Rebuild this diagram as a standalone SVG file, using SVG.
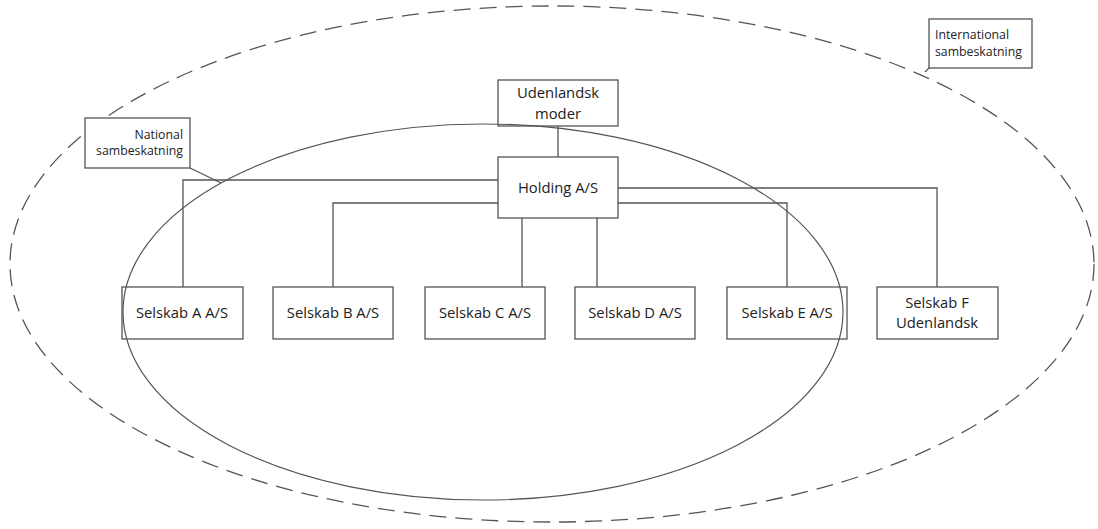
<svg xmlns="http://www.w3.org/2000/svg" width="1098" height="529" viewBox="0 0 1098 529">
<style>
.box{fill:#fff;stroke:#555;stroke-width:1.3}
.t{font-family:"Open Sans","Noto Sans",sans-serif;font-size:14.8px;fill:#222;text-anchor:middle}
.c{font-family:"Open Sans","Noto Sans",sans-serif;font-size:12.3px;fill:#222}
.ln{fill:none;stroke:#555;stroke-width:1.3}
</style>
<rect width="1098" height="529" fill="#fff"/>
<g id="international-ellipse"><ellipse cx="552" cy="264" rx="542" ry="258" fill="none" stroke="#555" stroke-width="1.3" stroke-dasharray="17 9"/></g>
<g id="connectors">
<path class="ln" d="M558 126V157M498 180H183V287M498 203H333V287M522 218V287M597 218V287M618 188H937V287M618 203H787V287"/>
<path class="ln" d="M190 168L221 183M929 68L925 72"/>
</g>
<g id="udenlandsk-moder"><rect class="box" x="498" y="80" width="120" height="46"/><text class="t" x="558" y="98">Udenlandsk</text><text class="t" x="558" y="119">moder</text></g>
<g id="holding"><rect class="box" x="498" y="157" width="120" height="61"/><text class="t" x="558" y="193">Holding A/S</text></g>
<g id="selskab-a"><rect class="box" x="122" y="287" width="121" height="52"/><text class="t" x="182" y="318">Selskab A A/S</text></g>
<g id="selskab-b"><rect class="box" x="273" y="287" width="120" height="52"/><text class="t" x="333" y="318">Selskab B A/S</text></g>
<g id="selskab-c"><rect class="box" x="425" y="287" width="120" height="52"/><text class="t" x="485" y="318">Selskab C A/S</text></g>
<g id="selskab-d"><rect class="box" x="575" y="287" width="120" height="52"/><text class="t" x="635" y="318">Selskab D A/S</text></g>
<g id="selskab-e"><rect class="box" x="727" y="287" width="120" height="52"/><text class="t" x="787" y="318">Selskab E A/S</text></g>
<g id="selskab-f"><rect class="box" x="877" y="287" width="121" height="52"/><text class="t" x="937" y="308">Selskab F</text><text class="t" x="937" y="328">Udenlandsk</text></g>
<g id="national-ellipse"><ellipse cx="483" cy="312" rx="360" ry="188" fill="none" stroke="#555" stroke-width="1.2"/></g>
<g id="national-callout"><rect class="box" x="85" y="118" width="105" height="50"/><text class="c" x="183" y="139" text-anchor="end">National</text><text class="c" x="183" y="155" text-anchor="end">sambeskatning</text></g>
<g id="international-callout"><rect class="box" x="929" y="19" width="103" height="49"/><text class="c" x="935" y="39">International</text><text class="c" x="935" y="56">sambeskatning</text></g>
</svg>
